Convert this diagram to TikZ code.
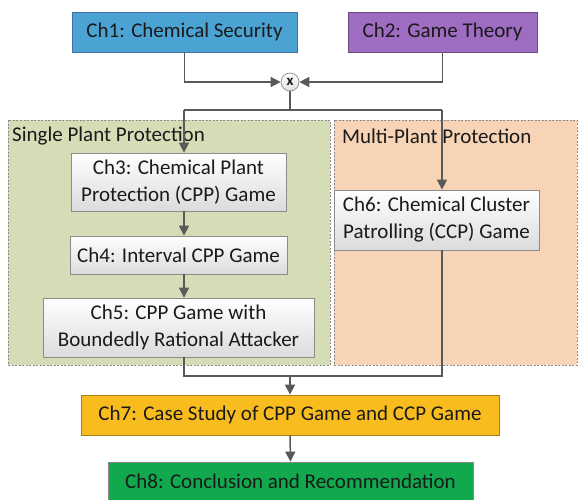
\documentclass[tikz,border=0pt]{standalone}
\usepackage{fontspec}
\setmainfont{Carlito}
\usetikzlibrary{arrows.meta,calc}
\definecolor{txt}{HTML}{1A1A1A}
\definecolor{lnc}{HTML}{595959}
\definecolor{blu}{HTML}{4BA3D3}
\definecolor{bluedge}{HTML}{41719C}
\definecolor{pur}{HTML}{9E6CC0}
\definecolor{puredge}{HTML}{6A4A80}
\definecolor{ylw}{HTML}{F8BC1E}
\definecolor{ylwedge}{HTML}{A8801A}
\definecolor{grn}{HTML}{12A84E}
\definecolor{grnedge}{HTML}{8A8A8A}
\definecolor{regg}{HTML}{D5DCB6}
\definecolor{rego}{HTML}{F7D4B5}
\definecolor{boxedge}{HTML}{8C8C8C}
\begin{document}
\begin{tikzpicture}[x=1pt,y=-1pt,
  every node/.style={font=\fontsize{21}{27}\selectfont, text=txt},
  chbox/.style={draw, rectangle, inner sep=0pt, align=center, line width=0.8pt},
  graybox/.style={chbox, draw=boxedge, top color=white, bottom color=black!14},
  region/.style={draw=black!45, dashed, line width=0.6pt, dash pattern=on 2pt off 1.5pt},
  conn/.style={draw=lnc, line width=1.5pt},
  arr/.style={conn, -{Triangle[length=10pt,width=10pt]}},
  reglabel/.style={anchor=west, inner sep=0pt}
]
\useasboundingbox (0,0) rectangle (578,499);
% regions
\fill[regg] (8,120) rectangle (330,365);
\draw[region] (8,120) rectangle (330,365);
\fill[rego] (334,120) rectangle (577,365);
\draw[region] (334,120) rectangle (577,365);
\node[reglabel] (lblS) at (12,136) {Single Plant Protection};
\node[reglabel] (lblM) at (342,136) {Multi-Plant Protection};
% top boxes
\node[chbox, fill=blu, draw=bluedge, minimum width=225pt, minimum height=40pt] (ch1) at (184.5,32) {Ch1: Chemical Security};
\node[chbox, fill=pur, draw=puredge, minimum width=189pt, minimum height=40pt] (ch2) at (442.5,32) {Ch2: Game Theory};
% combine circle
\node[draw=boxedge, circle, minimum size=18pt, inner sep=0pt, top color=white, bottom color=black!12, line width=0.7pt, font=\fontsize{15}{15}\selectfont\bfseries] (cx) at (290,82) {x};
% chapter boxes
\node[graybox, minimum width=215pt, minimum height=58pt] (ch3) at (178.5,182) {Ch3: Chemical Plant\\Protection (CPP) Game};
\node[graybox, minimum width=217pt, minimum height=38pt] (ch4) at (178.5,255) {Ch4: Interval CPP Game};
\node[graybox, minimum width=271pt, minimum height=59pt] (ch5) at (178.5,327.5) {Ch5: CPP Game with\\Boundedly Rational Attacker};
\node[graybox, minimum width=205pt, minimum height=60pt] (ch6) at (436.5,220) {Ch6: Chemical Cluster\\Patrolling (CCP) Game};
\node[chbox, fill=ylw, draw=ylwedge, minimum width=418pt, minimum height=40pt] (ch7) at (290,415) {Ch7: Case Study of CPP Game and CCP Game};
\node[chbox, fill=grn, draw=grnedge, minimum width=365pt, minimum height=38pt] (ch8) at (290.5,481) {Ch8: Conclusion and Recommendation};
% connectors
\coordinate (jl) at (184,110);
\coordinate (jr) at (442,110);
\coordinate (bl) at (184,376);
\coordinate (br) at (442,376);
\draw[arr] (ch1.south) |- (cx.west);
\draw[arr] (ch2.south) |- (cx.east);
\draw[conn] (cx.south) -- (cx.south |- jl);
\draw[conn] (jl) -- (jr);
\draw[arr] (jl) -- (jl |- ch3.north);
\draw[arr] (jr) -- (jr |- ch6.north);
\draw[arr] (jl |- ch3.south) -- (jl |- ch4.north);
\draw[arr] (jl |- ch4.south) -- (jl |- ch5.north);
\draw[conn] (jl |- ch5.south) -- (bl) -- (br) -- (br |- ch6.south);
\draw[arr] (ch7.north |- bl) -- (ch7.north);
\draw[arr] (ch7.south) -- (ch8.north);
\end{tikzpicture}
\end{document}
